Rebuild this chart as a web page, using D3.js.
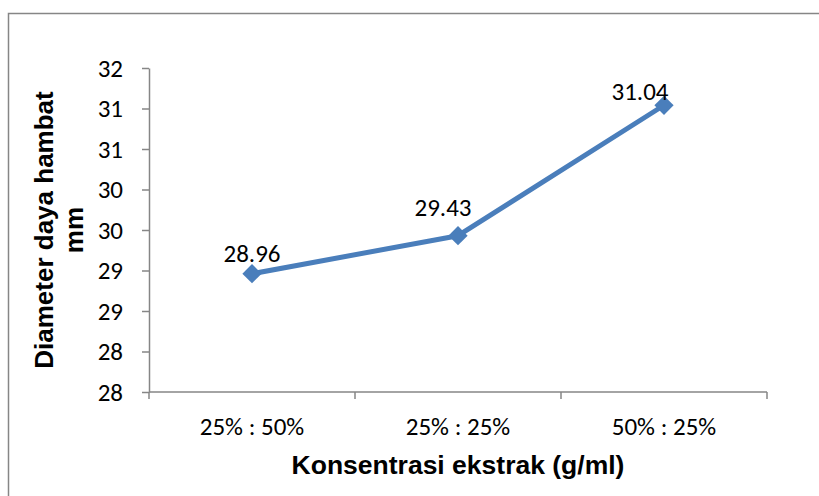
<!DOCTYPE html>
<html>
<head>
<meta charset="utf-8">
<script src="https://cdn.jsdelivr.net/npm/d3@7/dist/d3.min.js"></script>
<style>
  html, body { margin: 0; padding: 0; background: #fff; }
  svg { display: block; }
</style>
</head>
<body>
<svg id="chart" width="819" height="496"></svg>
<script>
// Inhibition zone diameter per extract concentration
const categories = ["25% : 50%", "25% : 25%", "50% : 25%"];
const values = [28.96, 29.43, 31.04];
const yTickValues = [27.5, 28, 28.5, 29, 29.5, 30, 30.5, 31, 31.5];
const yTickLabels = ["28", "28", "29", "29", "30", "30", "31", "31", "32"];
const xTitle = "Konsentrasi ekstrak (g/ml)";
const yTitleLines = ["Diameter daya hambat", "mm"];

// layout
const plot = { left: 149, right: 767, top: 68, bottom: 392 };
const labelShift = [[0, -12], [-15, -20], [-24, -5]];
const axisColor = "#868686";
const lineColor = "#4a7ebb";
const tickFont = "Carlito, Calibri, Lato, sans-serif";
const tickSize = "25px";
const titleFont = "'Liberation Sans', Arial, sans-serif";

const svg = d3.select("#chart");

// outer chart frame (runs past the right and bottom edges)
svg.append("rect")
  .attr("x", 8.5).attr("y", 13.5)
  .attr("width", 840).attr("height", 520)
  .attr("fill", "none")
  .attr("stroke", axisColor)
  .attr("stroke-width", 1.5);

const x = d3.scaleBand().domain(categories).range([plot.left, plot.right]).padding(0);
const y = d3.scaleLinear().domain([27.5, 31.5]).range([plot.bottom, plot.top]);

// y axis
const yAxis = svg.append("g")
  .attr("transform", `translate(${plot.left},0)`)
  .call(d3.axisLeft(y)
    .tickValues(yTickValues)
    .tickFormat((d, i) => yTickLabels[i])
    .tickSize(7)
    .tickSizeOuter(0)
    .tickPadding(19));
yAxis.select(".domain").attr("stroke", axisColor).attr("stroke-width", 1.5);
yAxis.selectAll(".tick line").attr("stroke", axisColor).attr("stroke-width", 1.5);
yAxis.selectAll(".tick text")
  .attr("fill", "#000")
  .style("font-family", tickFont)
  .style("font-size", tickSize);

// x axis: line, boundary ticks, centred category labels
const xAxis = svg.append("g").attr("transform", `translate(0,${plot.bottom})`);
xAxis.append("line")
  .attr("x1", plot.left).attr("x2", plot.right)
  .attr("stroke", axisColor).attr("stroke-width", 1.5);
const bounds = categories.map(c => x(c)).concat([x(categories[categories.length - 1]) + x.bandwidth()]);
xAxis.selectAll("line.tk").data(bounds).join("line")
  .attr("class", "tk")
  .attr("x1", d => d).attr("x2", d => d)
  .attr("y1", 0).attr("y2", 7)
  .attr("stroke", axisColor).attr("stroke-width", 1.5);
xAxis.selectAll("text.cat").data(categories).join("text")
  .attr("class", "cat")
  .attr("x", d => x(d) + x.bandwidth() / 2)
  .attr("y", 43)
  .attr("text-anchor", "middle")
  .style("font-family", tickFont)
  .style("font-size", tickSize)
  .text(d => d);

// series line
const pts = categories.map((c, i) => ({ c, v: values[i], i }));
const line = d3.line().x(d => x(d.c) + x.bandwidth() / 2).y(d => y(d.v));
svg.append("path")
  .datum(pts)
  .attr("d", line)
  .attr("fill", "none")
  .attr("stroke", lineColor)
  .attr("stroke-width", 5)
  .attr("stroke-linejoin", "round");

// diamond markers
svg.selectAll("path.mk").data(pts).join("path")
  .attr("class", "mk")
  .attr("d", d3.symbol().type(d3.symbolSquare).size(185))
  .attr("transform", d => `translate(${x(d.c) + x.bandwidth() / 2},${y(d.v)}) rotate(45)`)
  .attr("fill", lineColor);

// value labels
svg.selectAll("text.val").data(pts).join("text")
  .attr("class", "val")
  .attr("x", d => x(d.c) + x.bandwidth() / 2 + labelShift[d.i][0])
  .attr("y", d => y(d.v) + labelShift[d.i][1])
  .attr("text-anchor", "middle")
  .style("font-family", tickFont)
  .style("font-size", tickSize)
  .text(d => d.v.toFixed(2));

// axis titles
svg.append("text")
  .attr("x", (plot.left + plot.right) / 2)
  .attr("y", 474)
  .attr("text-anchor", "middle")
  .style("font-family", titleFont)
  .style("font-weight", "bold")
  .style("font-size", "26.5px")
  .text(xTitle);

const yMid = (plot.top + plot.bottom) / 2;
svg.selectAll("text.ytitle").data(yTitleLines).join("text")
  .attr("class", "ytitle")
  .attr("transform", (d, i) => `translate(${[53, 83][i]},${yMid}) rotate(-90)`)
  .attr("text-anchor", "middle")
  .style("font-family", titleFont)
  .style("font-weight", "bold")
  .style("font-size", "26px")
  .text(d => d);
</script>
</body>
</html>
